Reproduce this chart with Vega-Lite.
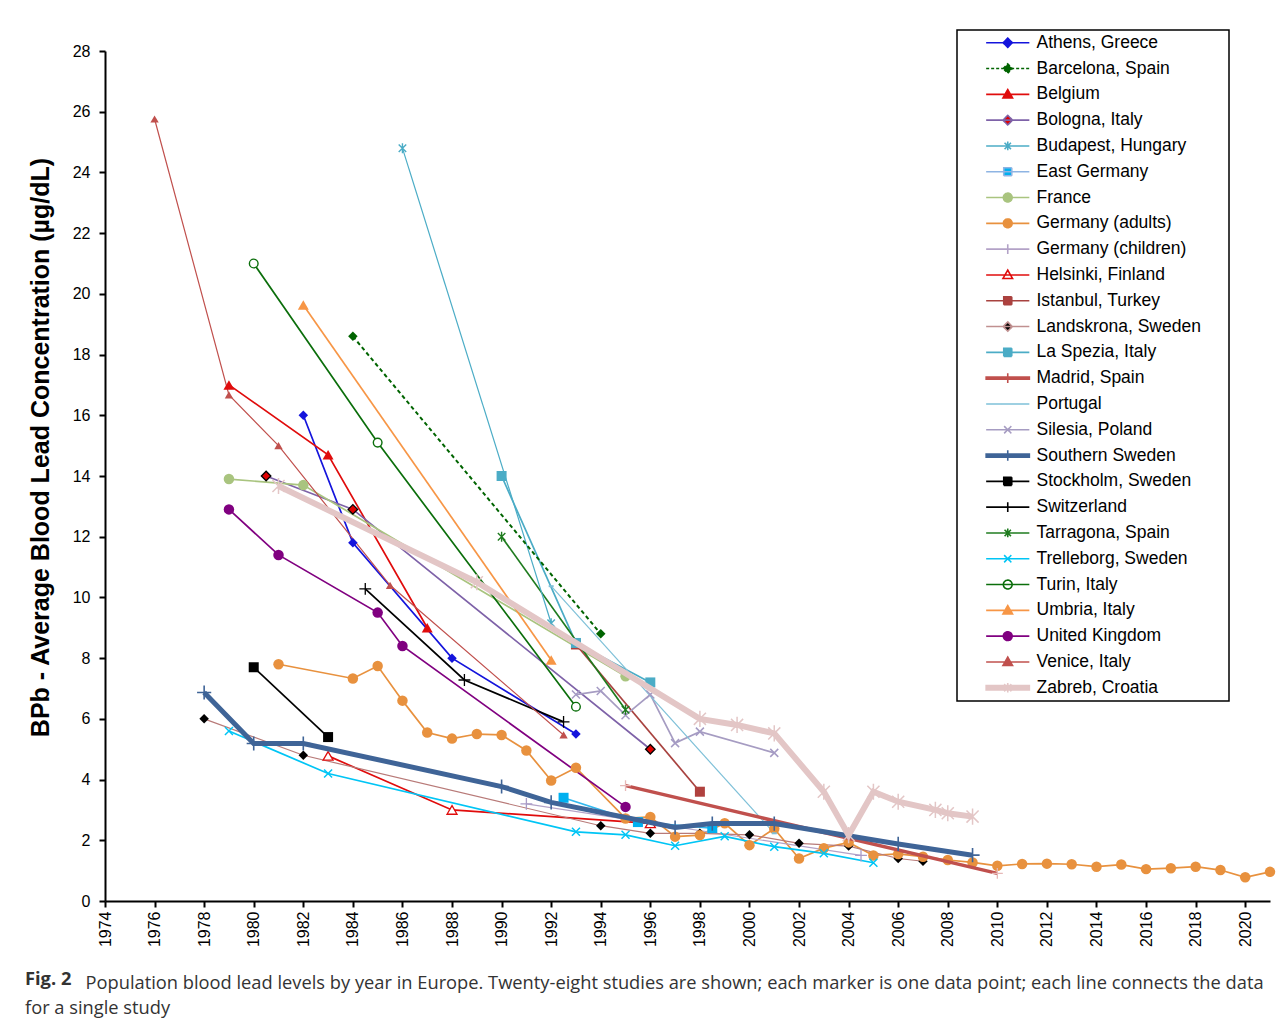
{
  "$schema": "https://vega.github.io/schema/vega-lite/v6.json",
  "width": 1165,
  "height": 850,
  "autosize": {"type": "none"},
  "padding": {"left": 105, "top": 51, "right": 17, "bottom": 126},
  "background": "white",
  "title": {
    "text": "Fig. 2",
    "subtitle": "for a single study",
    "orient": "bottom", "anchor": "start", "frame": "bounds",
    "font": "Open Sans", "fontSize": 18.3, "fontWeight": "bold", "color": "#333333",
    "subtitleFont": "Open Sans", "subtitleFontSize": 18.3, "subtitleColor": "#333333", "subtitleFontWeight": "normal",
    "subtitlePadding": 10, "offset": 0, "dx": -3, "dy": -20
  },
  "datasets": {
    "d": [
      {"s": "Athens, Greece", "year": 1982, "v": 16.0},
      {"s": "Athens, Greece", "year": 1984, "v": 11.8},
      {"s": "Athens, Greece", "year": 1988, "v": 8.0},
      {"s": "Athens, Greece", "year": 1993, "v": 5.5},
      {"s": "Barcelona, Spain", "year": 1984, "v": 18.6},
      {"s": "Barcelona, Spain", "year": 1994, "v": 8.8},
      {"s": "Belgium", "year": 1979, "v": 17.0},
      {"s": "Belgium", "year": 1983, "v": 14.7},
      {"s": "Belgium", "year": 1987, "v": 9.0},
      {"s": "Bologna, Italy", "year": 1980.5, "v": 14.0},
      {"s": "Bologna, Italy", "year": 1984, "v": 12.9},
      {"s": "Bologna, Italy", "year": 1996, "v": 5.0},
      {"s": "Budapest, Hungary", "year": 1986, "v": 24.8},
      {"s": "Budapest, Hungary", "year": 1992, "v": 9.15},
      {"s": "East Germany", "year": 1992.5, "v": 3.4},
      {"s": "East Germany", "year": 1995.5, "v": 2.6},
      {"s": "East Germany", "year": 1998.5, "v": 2.4},
      {"s": "France", "year": 1979, "v": 13.9},
      {"s": "France", "year": 1982, "v": 13.7},
      {"s": "France", "year": 1995, "v": 7.4},
      {"s": "Germany (adults)", "year": 1981, "v": 7.8},
      {"s": "Germany (adults)", "year": 1984, "v": 7.33},
      {"s": "Germany (adults)", "year": 1985, "v": 7.74},
      {"s": "Germany (adults)", "year": 1986, "v": 6.6},
      {"s": "Germany (adults)", "year": 1987, "v": 5.55},
      {"s": "Germany (adults)", "year": 1988, "v": 5.35},
      {"s": "Germany (adults)", "year": 1989, "v": 5.5},
      {"s": "Germany (adults)", "year": 1990, "v": 5.47},
      {"s": "Germany (adults)", "year": 1991, "v": 4.96},
      {"s": "Germany (adults)", "year": 1992, "v": 3.97},
      {"s": "Germany (adults)", "year": 1993, "v": 4.39},
      {"s": "Germany (adults)", "year": 1995, "v": 2.72},
      {"s": "Germany (adults)", "year": 1996, "v": 2.77},
      {"s": "Germany (adults)", "year": 1997, "v": 2.12},
      {"s": "Germany (adults)", "year": 1998, "v": 2.17},
      {"s": "Germany (adults)", "year": 1999, "v": 2.56},
      {"s": "Germany (adults)", "year": 2000, "v": 1.84},
      {"s": "Germany (adults)", "year": 2001, "v": 2.38},
      {"s": "Germany (adults)", "year": 2002, "v": 1.4},
      {"s": "Germany (adults)", "year": 2003, "v": 1.74},
      {"s": "Germany (adults)", "year": 2004, "v": 1.93},
      {"s": "Germany (adults)", "year": 2005, "v": 1.5},
      {"s": "Germany (adults)", "year": 2006, "v": 1.55},
      {"s": "Germany (adults)", "year": 2007, "v": 1.46},
      {"s": "Germany (adults)", "year": 2008, "v": 1.35},
      {"s": "Germany (adults)", "year": 2009, "v": 1.27},
      {"s": "Germany (adults)", "year": 2010, "v": 1.16},
      {"s": "Germany (adults)", "year": 2011, "v": 1.22},
      {"s": "Germany (adults)", "year": 2012, "v": 1.23},
      {"s": "Germany (adults)", "year": 2013, "v": 1.21},
      {"s": "Germany (adults)", "year": 2014, "v": 1.13},
      {"s": "Germany (adults)", "year": 2015, "v": 1.2},
      {"s": "Germany (adults)", "year": 2016, "v": 1.05},
      {"s": "Germany (adults)", "year": 2017, "v": 1.08},
      {"s": "Germany (adults)", "year": 2018, "v": 1.13},
      {"s": "Germany (adults)", "year": 2019, "v": 1.02},
      {"s": "Germany (adults)", "year": 2020, "v": 0.78},
      {"s": "Germany (adults)", "year": 2021, "v": 0.96},
      {"s": "Germany (children)", "year": 1991, "v": 3.2},
      {"s": "Germany (children)", "year": 2004.5, "v": 1.5},
      {"s": "Helsinki, Finland", "year": 1983, "v": 4.78},
      {"s": "Helsinki, Finland", "year": 1988, "v": 3.0},
      {"s": "Helsinki, Finland", "year": 1996, "v": 2.56},
      {"s": "Istanbul, Turkey", "year": 1993, "v": 8.45},
      {"s": "Istanbul, Turkey", "year": 1998, "v": 3.6},
      {"s": "Landskrona, Sweden", "year": 1978, "v": 6.0},
      {"s": "Landskrona, Sweden", "year": 1982, "v": 4.8},
      {"s": "Landskrona, Sweden", "year": 1994, "v": 2.48},
      {"s": "Landskrona, Sweden", "year": 1996, "v": 2.23},
      {"s": "Landskrona, Sweden", "year": 1998, "v": 2.23},
      {"s": "Landskrona, Sweden", "year": 2000, "v": 2.18},
      {"s": "Landskrona, Sweden", "year": 2002, "v": 1.9},
      {"s": "Landskrona, Sweden", "year": 2004, "v": 1.81},
      {"s": "Landskrona, Sweden", "year": 2006, "v": 1.4},
      {"s": "Landskrona, Sweden", "year": 2007, "v": 1.31},
      {"s": "La Spezia, Italy", "year": 1990, "v": 14.0},
      {"s": "La Spezia, Italy", "year": 1993, "v": 8.5},
      {"s": "La Spezia, Italy", "year": 1996, "v": 7.2},
      {"s": "Madrid, Spain", "year": 1995, "v": 3.8},
      {"s": "Madrid, Spain", "year": 2010, "v": 0.91},
      {"s": "Portugal", "year": 1992, "v": 10.37},
      {"s": "Portugal", "year": 2001, "v": 2.23},
      {"s": "Silesia, Poland", "year": 1993, "v": 6.8},
      {"s": "Silesia, Poland", "year": 1994, "v": 6.92},
      {"s": "Silesia, Poland", "year": 1995, "v": 6.12},
      {"s": "Silesia, Poland", "year": 1996, "v": 6.8},
      {"s": "Silesia, Poland", "year": 1997, "v": 5.2},
      {"s": "Silesia, Poland", "year": 1998, "v": 5.58},
      {"s": "Silesia, Poland", "year": 2001, "v": 4.88},
      {"s": "Southern Sweden", "year": 1978, "v": 6.87},
      {"s": "Southern Sweden", "year": 1980, "v": 5.19},
      {"s": "Southern Sweden", "year": 1982, "v": 5.19},
      {"s": "Southern Sweden", "year": 1990, "v": 3.77},
      {"s": "Southern Sweden", "year": 1992, "v": 3.25},
      {"s": "Southern Sweden", "year": 1997, "v": 2.42},
      {"s": "Southern Sweden", "year": 1998.5, "v": 2.55},
      {"s": "Southern Sweden", "year": 2001, "v": 2.55},
      {"s": "Southern Sweden", "year": 2006, "v": 1.88},
      {"s": "Southern Sweden", "year": 2009, "v": 1.51},
      {"s": "Stockholm, Sweden", "year": 1980, "v": 7.7},
      {"s": "Stockholm, Sweden", "year": 1983, "v": 5.4},
      {"s": "Switzerland", "year": 1984.5, "v": 10.28},
      {"s": "Switzerland", "year": 1988.5, "v": 7.28},
      {"s": "Switzerland", "year": 1992.5, "v": 5.9},
      {"s": "Tarragona, Spain", "year": 1990, "v": 12.0},
      {"s": "Tarragona, Spain", "year": 1995, "v": 6.3},
      {"s": "Trelleborg, Sweden", "year": 1979, "v": 5.6},
      {"s": "Trelleborg, Sweden", "year": 1983, "v": 4.2},
      {"s": "Trelleborg, Sweden", "year": 1993, "v": 2.28},
      {"s": "Trelleborg, Sweden", "year": 1995, "v": 2.18},
      {"s": "Trelleborg, Sweden", "year": 1997, "v": 1.82},
      {"s": "Trelleborg, Sweden", "year": 1999, "v": 2.13},
      {"s": "Trelleborg, Sweden", "year": 2001, "v": 1.79},
      {"s": "Trelleborg, Sweden", "year": 2003, "v": 1.57},
      {"s": "Trelleborg, Sweden", "year": 2005, "v": 1.26},
      {"s": "Turin, Italy", "year": 1980, "v": 21.0},
      {"s": "Turin, Italy", "year": 1985, "v": 15.1},
      {"s": "Turin, Italy", "year": 1993, "v": 6.4},
      {"s": "Umbria, Italy", "year": 1982, "v": 19.63},
      {"s": "Umbria, Italy", "year": 1992, "v": 7.94},
      {"s": "United Kingdom", "year": 1979, "v": 12.9},
      {"s": "United Kingdom", "year": 1981, "v": 11.4},
      {"s": "United Kingdom", "year": 1985, "v": 9.5},
      {"s": "United Kingdom", "year": 1986, "v": 8.4},
      {"s": "United Kingdom", "year": 1995, "v": 3.1},
      {"s": "Venice, Italy", "year": 1976, "v": 25.76},
      {"s": "Venice, Italy", "year": 1979, "v": 16.67},
      {"s": "Venice, Italy", "year": 1981, "v": 15.0},
      {"s": "Venice, Italy", "year": 1985.5, "v": 10.4},
      {"s": "Venice, Italy", "year": 1992.5, "v": 5.47},
      {"s": "Zabreb, Croatia", "year": 1981, "v": 13.67},
      {"s": "Zabreb, Croatia", "year": 1989, "v": 10.5},
      {"s": "Zabreb, Croatia", "year": 1998, "v": 6.0},
      {"s": "Zabreb, Croatia", "year": 1999.5, "v": 5.8},
      {"s": "Zabreb, Croatia", "year": 2001, "v": 5.52},
      {"s": "Zabreb, Croatia", "year": 2003, "v": 3.6},
      {"s": "Zabreb, Croatia", "year": 2004, "v": 2.17},
      {"s": "Zabreb, Croatia", "year": 2005, "v": 3.6},
      {"s": "Zabreb, Croatia", "year": 2006, "v": 3.27},
      {"s": "Zabreb, Croatia", "year": 2007.5, "v": 3.0},
      {"s": "Zabreb, Croatia", "year": 2008, "v": 2.89},
      {"s": "Zabreb, Croatia", "year": 2009, "v": 2.78}
    ]
  },
  "data": {"name": "d"},
  "encoding": {
    "x": {"field": "year", "type": "quantitative",
      "scale": {"domain": [1974, 2021], "nice": false, "zero": false},
      "axis": {"values": [1974,1976,1978,1980,1982,1984,1986,1988,1990,1992,1994,1996,1998,2000,2002,2004,2006,2008,2010,2012,2014,2016,2018,2020], "format": "d", "labelAngle": -90, "labelPadding": 4,
        "title": "Population blood lead levels by year in Europe. Twenty-eight studies are shown; each marker is one data point; each line connects the data",
        "titleFont": "Open Sans", "titleFontSize": 18.3, "titleFontWeight": "normal", "titleColor": "#333333",
        "titleX": -20, "titleY": 87, "titleAlign": "left", "titleAnchor": "start", "titleBaseline": "alphabetic", "titleAngle": 0}},
    "y": {"field": "v", "type": "quantitative",
      "scale": {"domain": [0, 28], "nice": false},
      "axis": {"values": [0,2,4,6,8,10,12,14,16,18,20,22,24,26,28], "title": "BPb - Average Blood Lead Concentration (µg/dL)", "titleFontSize": 25, "titleFontWeight": "bold", "titleX": -57, "titleY": 396, "titleBaseline": "alphabetic", "titleAlign": "center", "titleAngle": 270, "labelPadding": 9}}
  },
  "layer": [
    {
      "transform": [{"filter": {"field": "s", "oneOf": ["Athens, Greece","Belgium","Bologna, Italy","East Germany","France","Germany (adults)","Helsinki, Finland","Istanbul, Turkey","La Spezia, Italy","Silesia, Poland","Stockholm, Sweden","Switzerland","Tarragona, Spain","Trelleborg, Sweden","Turin, Italy","Umbria, Italy","United Kingdom"]}}],
      "mark": {"type": "line", "strokeWidth": 1.7},
      "encoding": {"color": {"field": "s", "type": "nominal", "legend": null,
        "scale": {"domain": ["Athens, Greece","Belgium","Bologna, Italy","East Germany","France","Germany (adults)","Helsinki, Finland","Istanbul, Turkey","La Spezia, Italy","Silesia, Poland","Stockholm, Sweden","Switzerland","Tarragona, Spain","Trelleborg, Sweden","Turin, Italy","Umbria, Italy","United Kingdom"],
          "range": ["#1414DC","#E00C0C","#7E62A8","#33B8EE","#A9C47F","#E8913E","#E00C0C","#A8423F","#4BACC6","#A69CC2","#000000","#000000","#1E7B1E","#00C5F5","#0B6E0B","#F79646","#800080"]}}}
    },
    {
      "transform": [{"filter": {"field": "s", "oneOf": ["Budapest, Hungary","Germany (children)","Landskrona, Sweden","Portugal","Venice, Italy"]}}],
      "mark": {"type": "line", "strokeWidth": 1.2},
      "encoding": {"color": {"field": "s", "type": "nominal", "legend": null,
        "scale": {"domain": ["Budapest, Hungary","Germany (children)","Landskrona, Sweden","Portugal","Venice, Italy"],
          "range": ["#4BACC6","#B3A2C7","#B87A78","#7EC0D8","#C0504D"]}}}
    },
    {
      "transform": [{"filter": {"field": "s", "equal": "Barcelona, Spain"}}],
      "mark": {"type": "line", "strokeWidth": 2, "strokeDash": [4, 3], "color": "#006400"},
      "encoding": {}
    },
    {
      "transform": [{"filter": {"field": "s", "oneOf": ["Athens, Greece","Barcelona, Spain","Landskrona, Sweden"]}}],
      "mark": {"type": "point", "filled": true, "shape": "diamond", "size": 90, "opacity": 1},
      "encoding": {"color": {"field": "s", "type": "nominal", "legend": null,
        "scale": {"domain": ["Athens, Greece","Barcelona, Spain","Landskrona, Sweden"], "range": ["#1414DC","#006400","#000000"]}}}
    },
    {
      "transform": [{"filter": {"field": "s", "equal": "Bologna, Italy"}}],
      "mark": {"type": "point", "filled": true, "shape": "diamond", "size": 90, "opacity": 1, "fill": "#E00000", "stroke": "#000000", "strokeWidth": 1.3},
      "encoding": {}
    },
    {
      "transform": [{"filter": {"field": "s", "oneOf": ["Belgium","Umbria, Italy"]}}],
      "mark": {"type": "point", "filled": true, "shape": "triangle-up", "size": 120, "opacity": 1},
      "encoding": {"color": {"field": "s", "type": "nominal", "legend": null,
        "scale": {"domain": ["Belgium","Umbria, Italy"], "range": ["#E00C0C","#F79646"]}}}
    },
    {
      "transform": [{"filter": {"field": "s", "equal": "Venice, Italy"}}],
      "mark": {"type": "point", "filled": true, "shape": "triangle-up", "size": 70, "opacity": 1, "color": "#C0504D"},
      "encoding": {}
    },
    {
      "transform": [{"filter": {"field": "s", "equal": "Helsinki, Finland"}}],
      "mark": {"type": "point", "filled": true, "shape": "triangle-up", "size": 100, "opacity": 1, "fill": "white", "stroke": "#E00C0C", "strokeWidth": 1.3},
      "encoding": {}
    },
    {
      "transform": [{"filter": {"field": "s", "oneOf": ["France","Germany (adults)","United Kingdom"]}}],
      "mark": {"type": "point", "filled": true, "shape": "circle", "size": 110, "opacity": 1},
      "encoding": {"color": {"field": "s", "type": "nominal", "legend": null,
        "scale": {"domain": ["France","Germany (adults)","United Kingdom"], "range": ["#A9C47F","#E8913E","#800080"]}}}
    },
    {
      "transform": [{"filter": {"field": "s", "equal": "Turin, Italy"}}],
      "mark": {"type": "point", "filled": true, "shape": "circle", "size": 75, "opacity": 1, "fill": "white", "stroke": "#0B6E0B", "strokeWidth": 1.4},
      "encoding": {}
    },
    {
      "transform": [{"filter": {"field": "s", "oneOf": ["East Germany","Istanbul, Turkey","La Spezia, Italy","Stockholm, Sweden"]}}],
      "mark": {"type": "point", "filled": true, "shape": "square", "size": 100, "opacity": 1},
      "encoding": {"color": {"field": "s", "type": "nominal", "legend": null,
        "scale": {"domain": ["East Germany","Istanbul, Turkey","La Spezia, Italy","Stockholm, Sweden"], "range": ["#00B0F0","#B0413E","#4BACC6","#000000"]}}}
    },
    {
      "transform": [{"filter": {"field": "s", "oneOf": ["Germany (children)","Switzerland"]}}],
      "mark": {"type": "point", "filled": false, "shape": "M-1,0L1,0M0,-1L0,1", "size": 140, "opacity": 1, "strokeWidth": 1.3},
      "encoding": {"color": {"field": "s", "type": "nominal", "legend": null,
        "scale": {"domain": ["Germany (children)","Switzerland"], "range": ["#A99BC7","#000000"]}}}
    },
    {
      "transform": [{"filter": {"field": "s", "oneOf": ["Silesia, Poland","Trelleborg, Sweden"]}}],
      "mark": {"type": "point", "filled": false, "shape": "M-1,-1L1,1M-1,1L1,-1", "size": 64, "opacity": 1, "strokeWidth": 1.5},
      "encoding": {"color": {"field": "s", "type": "nominal", "legend": null,
        "scale": {"domain": ["Silesia, Poland","Trelleborg, Sweden"], "range": ["#A59BC4","#00C5F5"]}}}
    },
    {
      "transform": [{"filter": {"field": "s", "oneOf": ["Budapest, Hungary","Tarragona, Spain"]}}],
      "mark": {"type": "point", "filled": false, "shape": "M-0.75,-0.75L0.75,0.75M-0.75,0.75L0.75,-0.75M0,-1L0,1", "size": 100, "opacity": 1, "strokeWidth": 1.4},
      "encoding": {"color": {"field": "s", "type": "nominal", "legend": null,
        "scale": {"domain": ["Budapest, Hungary","Tarragona, Spain"], "range": ["#4BACC6","#1E7B1E"]}}}
    },
    {
      "transform": [{"filter": {"field": "s", "equal": "Portugal"}}],
      "mark": {"type": "point", "filled": false, "shape": "M-1,0L1,0", "size": 25, "opacity": 1, "strokeWidth": 2, "color": "#7EC0D8"},
      "encoding": {}
    },
    {
      "transform": [{"filter": {"field": "s", "equal": "Madrid, Spain"}}],
      "mark": {"type": "line", "strokeWidth": 3.5, "color": "#C0504D"},
      "encoding": {}
    },
    {
      "transform": [{"filter": {"field": "s", "equal": "Madrid, Spain"}}],
      "mark": {"type": "point", "filled": false, "shape": "M-1,0L1,0M0,-1L0,1", "size": 120, "opacity": 1, "strokeWidth": 1.3, "color": "#E6B9B8"},
      "encoding": {}
    },
    {
      "transform": [{"filter": {"field": "s", "equal": "Southern Sweden"}}],
      "mark": {"type": "line", "strokeWidth": 5, "color": "#3F6497"},
      "encoding": {}
    },
    {
      "transform": [{"filter": {"field": "s", "equal": "Southern Sweden"}}],
      "mark": {"type": "point", "filled": false, "shape": "M-1,0L1,0M0,-1L0,1", "size": 200, "opacity": 1, "strokeWidth": 1.6, "color": "#3F6497"},
      "encoding": {}
    },
    {
      "transform": [{"filter": {"field": "s", "equal": "Zabreb, Croatia"}}],
      "mark": {"type": "line", "strokeWidth": 6, "color": "#E3C6C6"},
      "encoding": {}
    },
    {
      "transform": [{"filter": {"field": "s", "equal": "Zabreb, Croatia"}}],
      "mark": {"type": "point", "filled": false, "shape": "M-0.75,-0.75L0.75,0.75M-0.75,0.75L0.75,-0.75M0,-1L0,1", "size": 260, "opacity": 1, "strokeWidth": 1.5, "color": "#E3C6C6"},
      "encoding": {}
    },
    {
      "transform": [{"filter": "false"}],
      "mark": {"type": "point", "filled": true, "opacity": 1},
      "encoding": {
        "shape": {"field": "s", "type": "nominal",
          "legend": {"title": null},
          "scale": {"domain": ["Athens, Greece","Barcelona, Spain","Belgium","Bologna, Italy","Budapest, Hungary","East Germany","France","Germany (adults)","Germany (children)","Helsinki, Finland","Istanbul, Turkey","Landskrona, Sweden","La Spezia, Italy","Madrid, Spain","Portugal","Silesia, Poland","Southern Sweden","Stockholm, Sweden","Switzerland","Tarragona, Spain","Trelleborg, Sweden","Turin, Italy","Umbria, Italy","United Kingdom","Venice, Italy","Zabreb, Croatia"],
            "range": [
              "M-5.4,0L5.4,0M0,-1.15L1.15,0L0,1.15L-1.15,0ZM53.5,0L53.5,0",
              "M-5.4,0L5.4,0M0,-1.15L1.15,0L0,1.15L-1.15,0Z",
              "M-5.4,0L5.4,0M0,-1.2L1.2,0.9L-1.2,0.9Z",
              "M-5.4,0L5.4,0M0,-1.2L1.2,0L0,1.2L-1.2,0Z",
              "M-5.4,0L5.4,0M-0.8,-0.8L0.8,0.8M-0.8,0.8L0.8,-0.8M0,-1.1L0,1.1",
              "M-5.4,0L5.4,0M-1,-1L1,-1L1,1L-1,1Z",
              "M-5.4,0L5.4,0M-1.1,0A1.1,1.1,0,1,0,1.1,0A1.1,1.1,0,1,0,-1.1,0Z",
              "M-5.4,0L5.4,0M-1.1,0A1.1,1.1,0,1,0,1.1,0A1.1,1.1,0,1,0,-1.1,0Z",
              "M-5.4,0L5.4,0M0,-1.2L0,1.2",
              "M-5.4,0L5.4,0M0,-1.2L1.2,0.9L-1.2,0.9Z",
              "M-5.4,0L5.4,0M-1,-1L1,-1L1,1L-1,1Z",
              "M-5.4,0L5.4,0M0,-1.15L1.15,0L0,1.15L-1.15,0Z",
              "M-5.4,0L5.4,0M-1,-1L1,-1L1,1L-1,1Z",
              "M-5.4,-0.25L5.4,-0.25L5.4,0.25L-5.4,0.25ZM0,-1.2L0,1.2",
              "M-5.4,0L5.4,0",
              "M-5.4,0L5.4,0M-0.9,-0.9L0.9,0.9M-0.9,0.9L0.9,-0.9",
              "M-5.4,-0.4L5.4,-0.4L5.4,0.4L-5.4,0.4ZM0,-1.3L0,1.3",
              "M-5.4,0L5.4,0M-1,-1L1,-1L1,1L-1,1Z",
              "M-5.4,0L5.4,0M0,-1.2L0,1.2",
              "M-5.4,0L5.4,0M-0.8,-0.8L0.8,0.8M-0.8,0.8L0.8,-0.8M0,-1.1L0,1.1",
              "M-5.4,0L5.4,0M-0.9,-0.9L0.9,0.9M-0.9,0.9L0.9,-0.9",
              "M-5.4,0L5.4,0M-1.1,0A1.1,1.1,0,1,0,1.1,0A1.1,1.1,0,1,0,-1.1,0Z",
              "M-5.4,0L5.4,0M0,-1.2L1.2,0.9L-1.2,0.9Z",
              "M-5.4,0L5.4,0M-1.1,0A1.1,1.1,0,1,0,1.1,0A1.1,1.1,0,1,0,-1.1,0Z",
              "M-5.4,0L5.4,0M0,-1.2L1.2,0.9L-1.2,0.9Z",
              "M-5.4,-0.55L5.4,-0.55L5.4,0.55L-5.4,0.55ZM-0.9,-0.9L0.9,0.9M-0.9,0.9L0.9,-0.9M0,-1.2L0,1.2"
            ]}},
        "fill": {"field": "s", "type": "nominal",
          "legend": {"title": null},
          "scale": {"domain": ["Athens, Greece","Barcelona, Spain","Belgium","Bologna, Italy","Budapest, Hungary","East Germany","France","Germany (adults)","Germany (children)","Helsinki, Finland","Istanbul, Turkey","Landskrona, Sweden","La Spezia, Italy","Madrid, Spain","Portugal","Silesia, Poland","Southern Sweden","Stockholm, Sweden","Switzerland","Tarragona, Spain","Trelleborg, Sweden","Turin, Italy","Umbria, Italy","United Kingdom","Venice, Italy","Zabreb, Croatia"],
            "range": ["#1414DC","#006400","#E00C0C","#E00000","#4BACC6","#00B0F0","#A9C47F","#E8913E","#A99BC7","#FFFFFF","#B0413E","#000000","#4BACC6","#C0504D","#7EC0D8","#A59BC4","#3F6497","#000000","#000000","#1E7B1E","#00C5F5","#FFFFFF","#F79646","#800080","#C0504D","#E3C6C6"]}},
        "stroke": {"field": "s", "type": "nominal",
          "legend": {"title": null},
          "scale": {"domain": ["Athens, Greece","Barcelona, Spain","Belgium","Bologna, Italy","Budapest, Hungary","East Germany","France","Germany (adults)","Germany (children)","Helsinki, Finland","Istanbul, Turkey","Landskrona, Sweden","La Spezia, Italy","Madrid, Spain","Portugal","Silesia, Poland","Southern Sweden","Stockholm, Sweden","Switzerland","Tarragona, Spain","Trelleborg, Sweden","Turin, Italy","Umbria, Italy","United Kingdom","Venice, Italy","Zabreb, Croatia"],
            "range": ["#1414DC","#006400","#E00C0C","#7E62A8","#4BACC6","#8EB4E3","#A9C47F","#E8913E","#B3A2C7","#E00C0C","#A8423F","#C09090","#4BACC6","#C0504D","#7EC0D8","#A69CC2","#3F6497","#000000","#000000","#1E7B1E","#00C5F5","#0B6E0B","#F79646","#800080","#C0504D","#E3C6C6"]}},
        "strokeDash": {"field": "s", "type": "nominal",
          "legend": {"title": null},
          "scale": {"domain": ["Athens, Greece","Barcelona, Spain","Belgium","Bologna, Italy","Budapest, Hungary","East Germany","France","Germany (adults)","Germany (children)","Helsinki, Finland","Istanbul, Turkey","Landskrona, Sweden","La Spezia, Italy","Madrid, Spain","Portugal","Silesia, Poland","Southern Sweden","Stockholm, Sweden","Switzerland","Tarragona, Spain","Trelleborg, Sweden","Turin, Italy","Umbria, Italy","United Kingdom","Venice, Italy","Zabreb, Croatia"],
            "range": [[1,0],[3,2],[1,0],[1,0],[1,0],[1,0],[1,0],[1,0],[1,0],[1,0],[1,0],[1,0],[1,0],[1,0],[1,0],[1,0],[1,0],[1,0],[1,0],[1,0],[1,0],[1,0],[1,0],[1,0],[1,0],[1,0]]}}
      }
    }
  ],
  "resolve": {"scale": {"color": "independent"}},
  "config": {
    "view": {"stroke": null},
    "axis": {"grid": false, "domainColor": "#000000", "domainWidth": 2, "tickColor": "#000000", "tickWidth": 2, "tickSize": 6,
      "labelFont": "Liberation Sans", "labelFontSize": 16, "labelColor": "#000000", "titleFont": "Liberation Sans", "titleColor": "#000000"},
    "legend": {"orient": "none", "legendX": 852, "legendY": -21, "padding": 4, "strokeColor": "#000000", "strokeWidth": 1.5, "fillColor": "#FFFFFF",
      "symbolSize": 64, "symbolOffset": 38, "labelOffset": 20, "symbolOpacity": 1, "symbolStrokeWidth": 1.6,
      "labelFont": "Liberation Sans", "labelFontSize": 17.5, "labelColor": "#000000", "labelLimit": 400, "rowPadding": 6.8}
  }
}
